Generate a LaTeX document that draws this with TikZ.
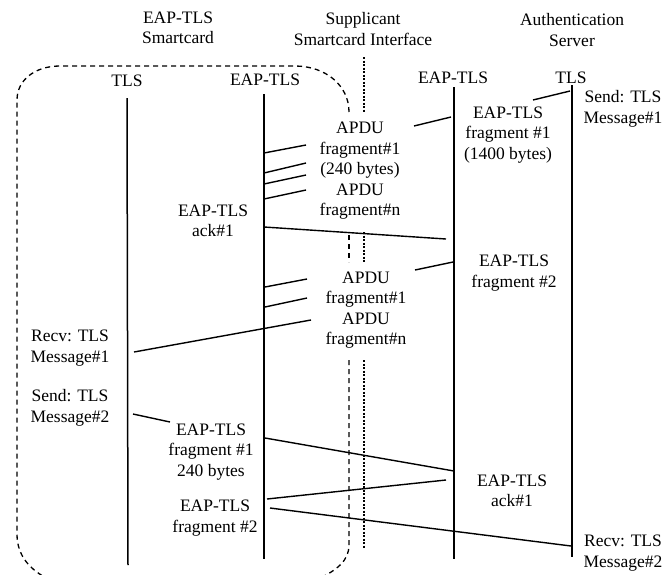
\documentclass[tikz,border=0pt]{standalone}
\usepackage{fontspec}
\setmainfont{Liberation Serif}
\def\cardtop{(349,112) .. controls (349,85) and (325,66) .. (295,66) -- (60,66) .. controls (35,66) and (17,80) .. (17,100) -- (17,534) .. controls (17,556) and (30,570) .. (50,580)}
\def\cardmid{(349,235) -- (349,262)}
\def\cardbot{(349,360) -- (349,545) .. controls (349,560) and (338,570) .. (316,580)}
\tikzset{
  lbl/.style={align=center, inner sep=0pt, font=\fontsize{17.5}{20.5}\selectfont},
  life/.style={line width=1.5pt},
  msg/.style={line width=1.4pt},
  cardline/.style={line width=1.3pt, dash pattern=on 5pt off 4pt},
  ifline/.style={line width=2.6pt, dash pattern=on 2pt off 1.5pt}
}
\begin{document}
\begin{tikzpicture}[x=1pt, y=-1pt]
    \clip (0,0) rectangle (669,574);
    \node[lbl] (hCard) at (178,28) {EAP-TLS\\Smartcard};
    \node[lbl] (hSupp) at (363,29) {Supplicant\\Smartcard Interface};
    \node[lbl] (hAuth) at (572,30) {Authentication\\Server};
    \node[lbl] (cTLS) at (127,81) {TLS};
    \node[lbl] (cEAP) at (265,80) {EAP-TLS};
    \node[lbl] (sEAP) at (453,78) {EAP-TLS};
    \node[lbl] (sTLS) at (571,78) {TLS};
    \draw[cardline] \cardtop;
    \draw[cardline] \cardmid;
    \draw[cardline] \cardbot;
    \coordinate (ifA) at (364,57);
    \coordinate (ifB) at (364,112);
    \coordinate (ifC) at (364,232);
    \coordinate (ifD) at (364,263);
    \coordinate (ifE) at (364,360);
    \coordinate (ifF) at (364,549);
    \draw[ifline] (ifA) -- (ifB);
    \draw[ifline] (ifC) -- (ifD);
    \draw[ifline] (ifE) -- (ifF);
    \coordinate (cTLSend) at (128,565);
    \coordinate (cEAPend) at (264,559);
    \coordinate (sEAPend) at (454,559);
    \coordinate (sTLSend) at (572,557);
    \draw[life] (cTLS.south |- 0,98) -- (cTLSend);
    \draw[life] (cEAPend |- 0,94) -- (cEAPend);
    \draw[life] (sEAPend |- 0,87) -- (sEAPend);
    \draw[life] (sTLSend |- 0,85) -- (sTLSend);
    \node[lbl] (sendA) at (623,109) {Send: TLS\\Message\#1};
    \node[lbl] (fragA) at (508,135) {EAP-TLS\\fragment \#1\\(1400 bytes)};
    \node[lbl] (apduA) at (360,171) {APDU\\fragment\#1\\(240 bytes)\\APDU\\fragment\#n};
    \node[lbl] (ackA) at (213,221) {EAP-TLS\\ack\#1};
    \node[lbl] (fragB) at (514,273) {EAP-TLS\\fragment \#2};
    \node[lbl] (apduB) at (366,310) {APDU\\fragment\#1\\APDU\\fragment\#n};
    \node[lbl] (recvA) at (70,348) {Recv: TLS\\Message\#1};
    \node[lbl] (sendB) at (70,408) {Send: TLS\\Message\#2};
    \node[lbl] (fragC) at (211,452) {EAP-TLS\\fragment \#1\\240 bytes};
    \node[lbl] (ackB) at (512,491) {EAP-TLS\\ack\#1};
    \node[lbl] (fragD) at (215,518) {EAP-TLS\\fragment \#2};
    \node[lbl] (recvB) at (623,553) {Recv: TLS\\Message\#2};
    \coordinate (m1a) at (570,91);  \coordinate (m1b) at (533,100);
    \coordinate (m2a) at (451,117); \coordinate (m2b) at (414,126);
    \coordinate (m3a) at (306,145); \coordinate (m3b) at (264,153);
    \coordinate (m4a) at (306,163); \coordinate (m4b) at (264,173);
    \coordinate (m5a) at (306,175); \coordinate (m5b) at (264,184);
    \coordinate (m6a) at (306,190); \coordinate (m6b) at (264,199);
    \coordinate (m7a) at (264,227); \coordinate (m7b) at (446,239);
    \coordinate (m8a) at (453,262); \coordinate (m8b) at (415,270);
    \coordinate (m9a) at (307,279); \coordinate (m9b) at (265,287);
    \coordinate (m10a) at (307,298); \coordinate (m10b) at (265,307);
    \coordinate (m11a) at (311,320); \coordinate (m11b) at (134,352);
    \coordinate (m12a) at (133,414); \coordinate (m12b) at (170,422);
    \coordinate (m13a) at (265,438); \coordinate (m13b) at (454,471);
    \coordinate (m14a) at (446,480); \coordinate (m14b) at (267,499);
    \coordinate (m15a) at (270,508); \coordinate (m15b) at (571,546);
    \foreach \m in {m1,m2,m3,m4,m5,m6,m7,m8,m9,m10,m11,m12,m13,m14,m15}
      \draw[msg] (\m a) -- (\m b);
\end{tikzpicture}
\end{document}
